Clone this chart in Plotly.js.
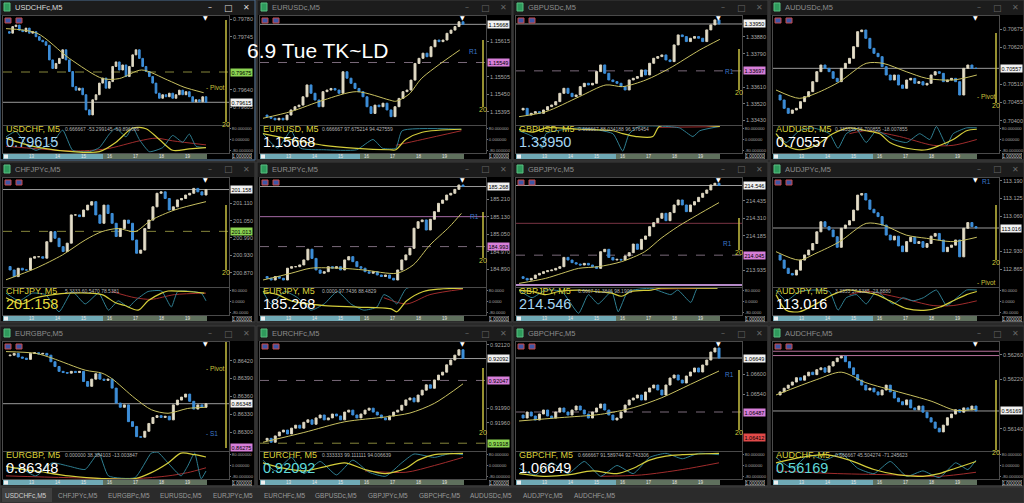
<!DOCTYPE html>
<html><head><meta charset="utf-8">
<script src="https://cdn.plot.ly/plotly-3.0.1.min.js"></script>
<style>html,body{margin:0;padding:0;background:#2b2b2b;overflow:hidden}#chart{width:1024px;height:503px}</style>
</head><body><div id="chart"></div>
<script>
// ---------------- DATA ----------------
const usdchfClose=[0.79755,0.79752,0.79765,0.79768,0.79758,0.79755,0.79762,0.79752,0.79755,0.79745,0.79738,0.79735,0.79728,0.79699,0.79682,0.79692,0.79702,0.79719,0.79699,0.79676,0.79646,0.79639,0.79643,0.79630,0.79600,0.79590,0.79620,0.79630,0.79653,0.79663,0.79643,0.79656,0.79686,0.79695,0.79679,0.79689,0.79666,0.79686,0.79709,0.79719,0.79702,0.79686,0.79676,0.79666,0.79653,0.79633,0.79623,0.79630,0.79626,0.79633,0.79623,0.79630,0.79639,0.79630,0.79636,0.79626,0.79616,0.79620,0.79616,0.79626,0.79615];
const usdchfMa=[[0,0.79761],[9.3,0.79752],[19,0.79702],[29,0.79662],[34,0.79662],[40.7,0.79679],[48.5,0.79659],[53.4,0.79645],[59.3,0.79634]];
const usdchfOscYellow=[[0,10],[5,-30],[10,-60],[20,-90],[28,-90],[33,-20],[38,85],[42,80],[46,0],[50,-80],[55,-70],[60,-60]];
const usdchfOscTeal=[[0,20],[3,60],[6,-40],[9,-80],[14,-20],[17,70],[20,-80],[25,-90],[28,-60],[31,40],[33,85],[36,20],[38,90],[40,0],[43,-90],[47,-60],[50,30],[53,-20],[55,40],[57,-50],[60,-60]];
const usdchfOscRed=[[0,-50],[10,-70],[20,-85],[30,-70],[40,-10],[45,10],[50,-10],[60,-40]];
const usdchfTicks=[0.79780,0.79745,0.79640,0.79605];

const eurusdClose=[1.15385,1.15380,1.15375,1.15370,1.15375,1.15370,1.15385,1.15401,1.15411,1.15416,1.15442,1.15479,1.15453,1.15432,1.15411,1.15458,1.15463,1.15468,1.15463,1.15453,1.15520,1.15500,1.15484,1.15468,1.15458,1.15442,1.15411,1.15390,1.15416,1.15411,1.15422,1.15401,1.15380,1.15411,1.15437,1.15458,1.15463,1.15494,1.15546,1.15562,1.15578,1.15567,1.15598,1.15619,1.15614,1.15619,1.15640,1.15650,1.15661,1.15676,1.15668];
const eurusdMa=[[0,1.15375],[7,1.15396],[15.2,1.15432],[23.4,1.15458],[31.6,1.15432],[33.2,1.15428],[36.5,1.15450],[39.7,1.15500],[49.2,1.15588]];
const eurusdOscYellow=[[0,43],[7,0],[15.2,-43],[23.4,-65],[31.6,-76],[33.2,-76],[35.7,0],[39.8,54],[49.6,76]];
const eurusdOscTeal=[[0,43],[3.7,-65],[7,65],[9.4,-65],[15.2,-76],[23.4,-76],[27.5,0],[29.9,-65],[33.2,-65],[34.8,65],[49.6,76]];
const eurusdOscRed=[[33.2,-43],[39.8,0],[49.6,65]];
const eurusdTicks=[1.15615,1.15505,1.15450,1.15395];

const gbpusdClose=[1.33486,1.33495,1.33459,1.33468,1.33477,1.33468,1.33486,1.33504,1.33513,1.33531,1.33576,1.33603,1.33576,1.33558,1.33567,1.33612,1.33630,1.33621,1.33630,1.33693,1.33729,1.33684,1.33648,1.33639,1.33630,1.33612,1.33594,1.33648,1.33657,1.33666,1.33702,1.33675,1.33738,1.33765,1.33774,1.33783,1.33756,1.33747,1.33837,1.33891,1.33882,1.33855,1.33873,1.33882,1.33873,1.33855,1.33918,1.33945,1.33972,1.33950];
const gbpusdMa=[[0,1.33450],[6.6,1.33477],[14.8,1.33558],[21.3,1.33621],[25.4,1.33612],[31.1,1.33648],[36.9,1.33711],[44.3,1.33810],[49.2,1.33867]];
const gbpusdOscYellow=[[0,76],[3.3,54],[6.6,86],[14.8,76],[23,65],[25.4,43],[28.7,22],[32.8,22],[34.4,97],[49.2,97]];
const gbpusdOscTeal=[[0,65],[3.3,22],[5.7,-65],[6.6,43],[14.8,86],[23,43],[25.4,-86],[27,43],[29.5,97],[39.3,86],[42.6,22],[44.3,65],[49.2,97]];
const gbpusdOscRed=[[34.4,90],[49.2,95]];
const gbpusdTicks=[1.33880,1.33790,1.33610,1.33520,1.33430];

const audusdClose=[0.70477,0.70462,0.70437,0.70422,0.70432,0.70437,0.70457,0.70472,0.70487,0.70517,0.70547,0.70567,0.70557,0.70547,0.70527,0.70517,0.70557,0.70572,0.70587,0.70622,0.70667,0.70672,0.70647,0.70617,0.70602,0.70592,0.70562,0.70537,0.70522,0.70537,0.70507,0.70497,0.70522,0.70527,0.70512,0.70517,0.70507,0.70512,0.70537,0.70547,0.70542,0.70517,0.70522,0.70527,0.70517,0.70477,0.70557,0.70567,0.70557,0.70557];
const audusdMa=[[0,0.70492],[5.7,0.70467],[9.8,0.70482],[15.6,0.70517],[22.1,0.70572],[26.2,0.70572],[31.9,0.70547],[36.9,0.70527],[43.4,0.70522],[49.2,0.70537]];
const audusdOscYellow=[[0,43],[2.5,-43],[5.7,-76],[9.8,-43],[13.9,43],[18,86],[22.1,65],[25.4,43],[27.9,-22],[32,-65],[36.9,-76],[40.2,-43],[43.4,0],[46.7,65],[49.2,76]];
const audusdOscTeal=[[0,43],[2.5,-22],[5.7,65],[9,86],[13.1,43],[15.2,-65],[17.2,43],[19.7,76],[22.1,-22],[24.6,65],[28.7,0],[32,-22],[35.2,43],[37.7,0],[39.3,97],[41.8,-43],[43.4,43],[46.7,86],[49.2,86]];
const audusdOscRed=[[18,43],[22.1,65],[30.3,22],[38.5,-43],[43.4,-43],[49.2,0]];
const audusdTicks=[0.70675,0.70620,0.70510,0.70455,0.70400];

const chfjpyClose=[200.891,200.879,200.856,200.885,200.879,200.879,200.920,200.925,200.925,200.920,200.977,201.012,200.989,200.960,200.943,200.972,201.070,201.070,201.064,201.087,201.104,201.116,201.070,201.041,201.104,201.075,201.041,200.995,201.023,201.052,201.041,200.983,200.937,200.948,201.023,201.052,201.098,201.145,201.150,201.127,201.087,201.098,201.122,201.127,201.139,201.145,201.162,201.150,201.139,201.158];
const chfjpyMa=[[0,200.845],[7.3,200.885],[13.8,200.931],[19.4,200.983],[23.5,201.012],[27.5,201.023],[31.6,201.012],[35.6,201.052],[41.3,201.087],[49,201.116]];
const chfjpyOscYellow=[[0,28],[4,-18],[7.3,28],[15.4,62],[23.5,51],[26.7,-7],[29.1,-30],[32.4,-64],[34.8,5],[38.1,62],[39.7,78],[44.5,74],[48.6,62]];
const chfjpyOscTeal=[[0,62],[3.2,5],[6.5,62],[9.7,51],[13,-76],[16.2,74],[19.4,-18],[22.7,62],[25.1,-64],[27.5,5],[30,-41],[31.6,5],[34.8,74],[38.1,78],[40.5,-41],[42.1,74],[47.8,62],[49,5]];
const chfjpyOscRed=[[25.9,74],[31.6,28],[35.6,16],[41.3,51],[49,62]];
const chfjpyTicks=[201.110,201.050,200.990,200.930,200.870];

const eurjpyClose=[184.856,184.848,184.840,184.856,184.848,184.840,184.894,184.901,184.901,184.909,184.932,184.981,184.939,184.886,184.871,184.878,184.901,184.894,184.901,184.886,184.932,184.947,184.924,184.901,184.894,184.878,184.871,184.878,184.863,184.856,184.863,184.848,184.840,184.886,184.932,184.955,184.985,185.077,185.107,185.115,185.069,185.118,185.153,185.191,185.206,185.229,185.237,185.255,185.275,185.268];
const eurjpyMa=[[0,184.840],[6.9,184.871],[11.7,184.894],[19,184.894],[24.7,184.886],[32.8,184.871],[36.8,184.909],[40.9,185.000],[45.7,185.084],[48.6,185.145]];
const eurjpyOscYellow=[[0,74],[3.6,51],[6.9,5],[15,-30],[23.1,-41],[31.2,-53],[32.8,-76],[35.2,5],[39.3,74],[43.3,92],[49,98]];
const eurjpyOscTeal=[[0,74],[2,-18],[5.3,74],[8.5,28],[11.7,-64],[15,-18],[18.2,74],[21.5,-18],[24.7,-64],[27.9,-41],[29.6,51],[31.2,28],[32.8,-18],[35.2,98],[49,98]];
const eurjpyOscRed=[[29.6,28],[35.2,-18],[40.9,51],[49,92]];
const eurjpyTicks=[185.210,185.130,185.050,184.970,184.890];

const gbpjpyClose=[213.890,213.878,213.866,213.878,213.902,213.914,213.926,213.933,213.938,213.950,213.962,214.029,214.010,213.991,213.981,213.974,213.986,213.974,213.962,213.950,214.070,214.087,214.029,214.010,214.015,214.010,214.039,214.063,214.125,214.087,214.159,214.183,214.250,214.279,214.310,214.346,214.293,214.351,214.406,214.442,214.406,214.358,214.406,214.430,214.461,214.490,214.514,214.550,214.562,214.546];
const gbpjpyMa=[[0,213.842],[6.5,213.878],[10.5,213.914],[14.6,213.950],[19.4,213.962],[25.1,213.998],[30.8,214.070],[34.8,214.166],[38.9,214.250],[43.7,214.334],[49,214.423]];
const gbpjpyOscYellow=[[0,85],[3.2,74],[6.5,51],[9.7,74],[14.6,85],[18.6,74],[22.7,62],[25.1,39],[27.5,74],[32.4,85],[34.8,98],[48.6,98]];
const gbpjpyOscTeal=[[0,85],[3.2,28],[6.5,85],[10.5,74],[14.6,-87],[17,51],[19.4,-18],[22.7,74],[24.3,-76],[26.7,74],[32.4,97],[37.2,51],[38.9,85],[42.1,-7],[43.7,97],[48.6,98]];
const gbpjpyOscRed=[[32.4,92],[48.6,98]];
const gbpjpyTicks=[214.435,214.310,214.185,213.935];

const audjpyClose=[112.917,112.898,112.868,112.849,112.843,112.861,112.898,112.917,112.935,112.959,113.002,113.039,113.021,113.009,112.984,112.945,113.015,113.027,113.043,113.082,113.137,113.143,113.119,113.085,113.072,113.058,113.027,112.990,112.972,112.986,112.950,112.929,112.966,112.982,112.959,112.966,112.945,112.959,112.986,112.996,112.972,112.929,112.945,112.953,112.972,112.910,113.015,113.036,113.021,113.016];
const audjpyMa=[[0,112.929],[5.7,112.898],[9.8,112.923],[15.6,112.966],[22.1,113.033],[26.2,113.027],[31.9,112.990],[36.9,112.978],[43.4,112.966],[49.2,112.982]];
const audjpyOscYellow=[[0,51],[2.5,-64],[5.7,-76],[9.8,-18],[13.9,51],[17.2,85],[20.5,74],[24.6,51],[27.9,5],[32,-53],[36.9,-64],[40.2,-41],[43.4,5],[46.7,51],[49.2,74]];
const audjpyOscTeal=[[0,85],[2.5,5],[5.7,74],[9,85],[13.1,74],[15.2,-64],[17.2,28],[19.7,51],[22.1,-18],[24.6,74],[28.7,-18],[31.1,28],[33.6,5],[36.1,28],[39.3,85],[41.8,-30],[44.3,28],[46.7,85],[49.2,85]];
const audjpyOscRed=[[18,51],[22.1,74],[30.3,28],[38.5,-30],[43.4,-30],[49.2,5]];
const audjpyTicks=[113.190,113.125,113.060,112.930,112.865];

const eurgbpClose=[0.86428,0.86429,0.86432,0.86426,0.86424,0.86422,0.86432,0.86433,0.86431,0.86432,0.86429,0.86418,0.86410,0.86402,0.86400,0.86399,0.86402,0.86400,0.86402,0.86385,0.86377,0.86389,0.86398,0.86389,0.86387,0.86389,0.86374,0.86349,0.86342,0.86346,0.86318,0.86310,0.86293,0.86292,0.86302,0.86315,0.86325,0.86328,0.86325,0.86327,0.86321,0.86346,0.86354,0.86359,0.86364,0.86352,0.86339,0.86346,0.86342,0.86348];
const eurgbpMa=[[0,0.86435],[7.3,0.86432],[11.3,0.86424],[19.4,0.86404],[23.5,0.86399],[25.9,0.86390],[31.6,0.86357],[35.6,0.86338],[39.7,0.86332],[44.5,0.86340],[49,0.86342]];
const eurgbpOscYellow=[[0,-5],[4,-29],[7.3,-41],[15.4,-77],[23.5,-97],[31.6,-97],[35.6,-53],[39.7,19],[42.9,92],[46.2,80],[49,63]];
const eurgbpOscTeal=[[0,-41],[3.2,-17],[7.3,-77],[11.3,19],[15.4,-5],[19.4,-29],[22.7,92],[25.1,-77],[31.6,-90],[35.6,92],[37.2,98],[39.7,19],[42.9,-77],[44.5,-5],[46.2,92],[47.8,-98],[49,-41]];
const eurgbpOscRed=[[0,-77],[15.4,-90],[31.6,-97],[39.7,-77],[44.5,-53],[49,-17]];
const eurgbpTicks=[0.86420,0.86390,0.86360,0.86330,0.86300];

const eurchfClose=[0.91924,0.91928,0.91920,0.91933,0.91941,0.91945,0.91937,0.91949,0.91955,0.91949,0.91961,0.91966,0.91957,0.91970,0.91976,0.91966,0.91970,0.91978,0.91974,0.91966,0.91982,0.91986,0.91976,0.91970,0.91978,0.91986,0.91990,0.91982,0.91976,0.91970,0.91966,0.91974,0.91982,0.91986,0.91996,0.92007,0.92011,0.92003,0.92017,0.92027,0.92038,0.92031,0.92048,0.92058,0.92064,0.92079,0.92089,0.92099,0.92110,0.92092];
const eurchfMa=[[0,0.91920],[10,0.91940],[20,0.91962],[30,0.91972],[36,0.91980],[42,0.92000],[49,0.92040]];
const eurchfOscYellow=[[0,20],[5,-20],[10,-40],[15,-10],[20,20],[25,-30],[30,-60],[35,-20],[38,40],[42,80],[49,90]];
const eurchfOscTeal=[[0,40],[3,-40],[7,60],[10,-60],[14,30],[18,-70],[22,40],[26,-50],[30,-80],[34,20],[37,85],[42,60],[46,90],[49,80]];
const eurchfOscRed=[[25,-40],[35,-50],[42,0],[49,60]];
const eurchfTicks=[0.92120,0.91990,0.91960];

const gbpchfClose=[1.06478,1.06469,1.06487,1.06475,1.06463,1.06481,1.06493,1.06475,1.06469,1.06487,1.06499,1.06487,1.06478,1.06493,1.06505,1.06493,1.06481,1.06469,1.06487,1.06499,1.06511,1.06493,1.06478,1.06463,1.06469,1.06487,1.06508,1.06523,1.06529,1.06538,1.06523,1.06547,1.06559,1.06568,1.06553,1.06538,1.06568,1.06589,1.06598,1.06583,1.06574,1.06595,1.06607,1.06619,1.06607,1.06628,1.06643,1.06667,1.06679,1.06649];
const gbpchfMa=[[0,1.06460],[10,1.06470],[20,1.06480],[28,1.06500],[35,1.06530],[42,1.06570],[49,1.06610]];
const gbpchfOscYellow=[[0,-60],[6,-80],[12,-70],[18,-40],[24,-60],[28,-20],[32,40],[36,70],[40,80],[44,85],[49,90]];
const gbpchfOscTeal=[[0,-20],[4,-70],[8,20],[12,-60],[16,30],[20,-80],[24,0],[28,-60],[32,60],[36,90],[40,50],[44,90],[49,80]];
const gbpchfOscRed=[[20,-80],[30,-70],[40,-30],[49,20]];
const gbpchfTicks=[1.06600,1.06540];

const audchfClose=[0.56195,0.56200,0.56206,0.56211,0.56216,0.56223,0.56219,0.56226,0.56232,0.56228,0.56236,0.56239,0.56232,0.56242,0.56249,0.56255,0.56258,0.56249,0.56239,0.56228,0.56219,0.56211,0.56203,0.56206,0.56200,0.56195,0.56203,0.56211,0.56200,0.56190,0.56184,0.56179,0.56187,0.56174,0.56171,0.56177,0.56167,0.56158,0.56151,0.56141,0.56135,0.56146,0.56158,0.56164,0.56171,0.56167,0.56174,0.56171,0.56177,0.56169];
const audchfMa=[[0,0.56195],[10,0.56220],[16,0.56232],[22,0.56215],[30,0.56200],[38,0.56185],[44,0.56170],[49,0.56172]];
const audchfOscYellow=[[0,20],[6,60],[12,80],[18,40],[24,-30],[30,-70],[36,-80],[40,-60],[44,-20],[49,30]];
const audchfOscTeal=[[0,60],[4,-20],[8,80],[12,40],[16,90],[20,-20],[24,-60],[28,30],[32,-80],[36,-40],[40,-90],[44,20],[47,-30],[49,40]];
const audchfOscRed=[[0,-40],[15,-60],[30,-70],[40,-80],[49,-50]];
const audchfTicks=[0.56260,0.56220,0.56140];

const timeLabels=['9','13','14','15','16','17','18','19'];
const tabLabels=['USDCHFc,M5','CHFJPYc,M5','EURGBPc,M5','EURUSDc,M5','EURJPYc,M5','EURCHFc,M5','GBPUSDc,M5','GBPJPYc,M5','GBPCHFc,M5','AUDUSDc,M5','AUDJPYc,M5','AUDCHFc,M5'];
const overlayText='6.9 Tue TK~LD';

// --------------- CONFIG (styles / placement) ---------------
const PINK='#d77fd9', GREEN='#8bd452', WHITE='#f2f2f2';
const charts=[
 {sym:'USDCHF',win:'USDCHFc,M5',close:usdchfClose,ma:usdchfMa,oy:usdchfOscYellow,ot:usdchfOscTeal,or:usdchfOscRed,ticks:usdchfTicks,dec:5,odec:6,yr:[0.79570,0.79786],pc:'#a6d6f2',otx:'0.666667 -53.299145 -69.896686',active:true,
  lines:[{v:0.79675,c:'#85853a',d:'dash'},{v:0.79615,c:'#9a9a9a'}],boxes:[{v:0.79675,bg:GREEN},{v:0.79615,bg:WHITE}],labels:[{v:0.79645,t:'- Pivot',c:'#c9c13e',dx:201}],vl:[20,122],twenty:true},
 {sym:'EURUSD',win:'EURUSDc,M5',close:eurusdClose,ma:eurusdMa,oy:eurusdOscYellow,ot:eurusdOscTeal,or:eurusdOscRed,ticks:eurusdTicks,dec:5,odec:6,yr:[1.15354,1.15694],pc:'#ffffff',otx:'0.666667 97.675214 94.427559',
  lines:[{v:1.15668,c:'#9a9a9a'},{v:1.15549,c:'#7a6a7a',d:'dash'}],boxes:[{v:1.15668,bg:WHITE},{v:1.15549,bg:PINK}],labels:[{v:1.15583,t:'R1',c:'#3c78c8',dx:207}],vl:[40,107],twenty:true},
 {sym:'GBPUSD',win:'GBPUSDc,M5',close:gbpusdClose,ma:gbpusdMa,oy:gbpusdOscYellow,ot:gbpusdOscTeal,or:gbpusdOscRed,ticks:gbpusdTicks,dec:5,odec:6,yr:[1.33405,1.33993],pc:'#a6d6f2',otx:'0.666667 88.034188 96.576454',
  lines:[{v:1.33950,c:'#9a9a9a'},{v:1.33697,c:'#7a6a7a',d:'dash'}],boxes:[{v:1.33950,bg:WHITE},{v:1.33697,bg:PINK}],labels:[{v:1.33693,t:'R1',c:'#3c78c8',dx:207}],vl:[49,90],twenty:true},
 {sym:'AUDUSD',win:'AUDUSDc,M5',close:audusdClose,ma:audusdMa,oy:audusdOscYellow,ot:audusdOscTeal,or:audusdOscRed,ticks:audusdTicks,dec:5,odec:6,yr:[0.70387,0.70714],pc:'#ffffff',otx:'0.333333 56.700855 -18.007855',
  lines:[{v:0.70557,c:'#9a9a9a'}],boxes:[{v:0.70557,bg:WHITE}],labels:[{v:0.70472,t:'- Pivot',c:'#c9c13e',dx:202}],vl:[33,103],twenty:true},
 {sym:'CHFJPY',win:'CHFJPYc,M5',close:chfjpyClose,ma:chfjpyMa,oy:chfjpyOscYellow,ot:chfjpyOscTeal,or:chfjpyOscRed,ticks:chfjpyTicks,dec:3,odec:4,yr:[200.820,201.198],pc:'#e6dc3c',otx:'5.3333 60.5470 78.5381',
  lines:[{v:201.158,c:'#9a9a9a'},{v:201.013,c:'#85853a',d:'dash'}],boxes:[{v:201.158,bg:WHITE},{v:201.013,bg:GREEN}],labels:[],vl:[43,108],twenty:true},
 {sym:'EURJPY',win:'EURJPYc,M5',close:eurjpyClose,ma:eurjpyMa,oy:eurjpyOscYellow,ot:eurjpyOscTeal,or:eurjpyOscRed,ticks:eurjpyTicks,dec:3,odec:4,yr:[184.808,185.307],pc:'#ffffff',otx:'0.0000 97.7436 88.4829',
  lines:[{v:185.268,c:'#9a9a9a'},{v:185.130,c:'#a56aa5'},{v:184.993,c:'#7a6a7a',d:'dash'}],boxes:[{v:185.268,bg:WHITE},{v:184.993,bg:PINK}],labels:[{v:185.130,t:'R1',c:'#3c78c8',dx:208}],vl:[50,96],twenty:true},
 {sym:'GBPJPY',win:'GBPJPYc,M5',close:gbpjpyClose,ma:gbpjpyMa,oy:gbpjpyOscYellow,ot:gbpjpyOscTeal,or:gbpjpyOscRed,ticks:gbpjpyTicks,dec:3,odec:4,yr:[213.816,214.600],pc:'#a6d6f2',otx:'6.6667 91.3846 98.1900',
  lines:[{v:214.546,c:'#9a9a9a'},{v:214.274,c:'#7a3444'},{v:214.045,c:'#7a6a7a',d:'dash'},{v:213.830,c:'#b58ac8',w:2}],boxes:[{v:214.546,bg:WHITE},{v:214.045,bg:PINK}],labels:[{v:214.130,t:'R1',c:'#3c78c8',dx:205}],vl:[56,88],twenty:true},
 {sym:'AUDJPY',win:'AUDJPYc,M5',close:audjpyClose,ma:audjpyMa,oy:audjpyOscYellow,ot:audjpyOscTeal,or:audjpyOscRed,ticks:audjpyTicks,dec:3,odec:4,yr:[112.799,113.200],pc:'#ffffff',otx:'3.3333 57.5385 -23.8880',
  lines:[{v:113.016,c:'#9a9a9a'}],boxes:[{v:113.016,bg:WHITE}],labels:[{v:112.816,t:'- Pivot',c:'#c9c13e',dx:202},{v:113.186,t:'R1',c:'#3c78c8',dx:207}],vl:[43,98],twenty:true},
 {sym:'EURGBP',win:'EURGBPc,M5',close:eurgbpClose,ma:eurgbpMa,oy:eurgbpOscYellow,ot:eurgbpOscTeal,or:eurgbpOscRed,ticks:eurgbpTicks,dec:5,odec:6,yr:[0.86269,0.86451],pc:'#ffffff',otx:'0.000000 38.384103 -13.003847',
  lines:[{v:0.86348,c:'#9a9a9a'}],boxes:[{v:0.86348,bg:WHITE},{v:0.86275,bg:PINK}],labels:[{v:0.86406,t:'- Pivot',c:'#c9c13e',dx:201},{v:0.86298,t:'- S1',c:'#3c78c8',dx:201}],vl:[16,122],twenty:false},
 {sym:'EURCHF',win:'EURCHFc,M5',close:eurchfClose,ma:eurchfMa,oy:eurchfOscYellow,ot:eurchfOscTeal,or:eurchfOscRed,ticks:eurchfTicks,dec:5,odec:6,yr:[0.91902,0.92126],pc:'#5fd9d9',otx:'0.333333 99.111111 94.006639',
  lines:[{v:0.92092,c:'#9a9a9a'},{v:0.92047,c:'#7a6a7a',d:'dash'},{v:0.91918,c:'#85853a',d:'dash'}],boxes:[{v:0.92092,bg:WHITE},{v:0.92047,bg:PINK},{v:0.91918,bg:GREEN}],labels:[],vl:[42,104],twenty:true},
 {sym:'GBPCHF',win:'GBPCHFc,M5',close:gbpchfClose,ma:gbpchfMa,oy:gbpchfOscYellow,ot:gbpchfOscTeal,or:gbpchfOscRed,ticks:gbpchfTicks,dec:5,odec:6,yr:[1.06370,1.06697],pc:'#ffffff',otx:'0.666667 91.589744 92.743306',
  lines:[{v:1.06649,c:'#9a9a9a'},{v:1.06487,c:'#7a6a7a',d:'dash'}],boxes:[{v:1.06649,bg:WHITE},{v:1.06487,bg:PINK},{v:1.06412,bg:'#e24a4a'}],labels:[{v:1.06600,t:'R1',c:'#3c78c8',dx:207}],vl:[44,104],twenty:true},
 {sym:'AUDCHF',win:'AUDCHFc,M5',close:audchfClose,ma:audchfMa,oy:audchfOscYellow,ot:audchfOscTeal,or:audchfOscRed,ticks:audchfTicks,dec:5,odec:6,yr:[0.56104,0.56281],pc:'#5fd9d9',otx:'0.666667 45.504274 -71.245623',
  lines:[{v:0.56169,c:'#9a9a9a'},{v:0.56266,c:'#b5709a'},{v:0.56259,c:'#b5709a'}],boxes:[{v:0.56169,bg:WHITE}],labels:[],vl:[54,124],twenty:true}
];

// --------------- BUILD ---------------
const W=1024,H=503;
const px=x=>x/W, py=y=>1-y/H;
const FONT='Liberation Sans, Arial, sans-serif';
const colLeft=[0,257,513,770], rowTop=[0,162,326];
const traces=[];
const layout={width:W,height:H,margin:{l:0,r:0,t:0,b:0},paper_bgcolor:'#2a2a2a',plot_bgcolor:'rgba(0,0,0,0)',showlegend:false,hovermode:false,dragmode:false,font:{family:FONT},shapes:[],annotations:[]};
function ann(o){layout.annotations.push(Object.assign({showarrow:false,xref:'paper',yref:'paper',xanchor:'left',yanchor:'middle'},o));}
function rect(x0,y0,x1,y1,fill,line,lw,layer){layout.shapes.push({type:'rect',xref:'paper',yref:'paper',x0:px(x0),x1:px(x1),y0:py(y1),y1:py(y0),fillcolor:fill,line:{color:line||'rgba(0,0,0,0)',width:lw||0},layer:layer||'above'});}
function seg(x0,y0,x1,y1,color,w,dash){layout.shapes.push({type:'line',xref:'paper',yref:'paper',x0:px(x0),x1:px(x1),y0:py(y0),y1:py(y1),line:{color:color,width:w||1,dash:dash||'solid'}});}

rect(0,487,1024,503,'#2b2b2b','#3a3a3a',1,'below');
rect(2,488,52,502,'#404040',null,0,'below');
tabLabels.forEach((t,i)=>ann({x:px(26+i*51.7),y:py(495.5),xanchor:'center',text:t,font:{size:6.5,color:i===0?'#d0d0d0':'#9a9a9a',family:FONT}}));

charts.forEach((c,k)=>{
  const col=k%4,row=Math.floor(k/4);
  const wx=colLeft[col],wy=rowTop[row],ww=(col===3?W-wx:255);
  const L=wx+3,R=wx+229,T=wy+16,MB=wy+125,OT=wy+126,OB=wy+153;
  const ia=2*k+1,ib=2*k+2;
  const xa='xaxis'+(ia===1?'':ia),ya='yaxis'+(ia===1?'':ia),xb='xaxis'+ib,yb='yaxis'+ib;
  const xr='x'+(ia===1?'':ia),yr='y'+(ia===1?'':ia),xr2='x'+ib,yr2='y'+ib;
  const n=c.close.length;
  const s=200/(n-1), a0=-3/s, xrange=[a0,a0+(R-L)/s];
  rect(wx,wy,wx+ww,wy+160,'#1c1c1c',c.active?'#4d6f91':'#3c3c3c',1,'below');
  rect(wx+1,wy+15,wx+ww-1,wy+159,'#000000',null,0,'below');
  rect(wx+4,wy+3,wx+10,wy+11,'#2f9a5c','#58c080',1);
  ann({x:px(wx+13),y:py(wy+7.5),text:c.win,font:{size:7.5,color:c.active?'#dadada':'#8c8c8c',family:FONT}});
  const bc=c.active?'#d8d8d8':'#666666';
  ann({x:px(wx+ww-45),y:py(wy+7.5),xanchor:'center',text:'–',font:{size:8,color:bc,family:'DejaVu Sans'}});
  ann({x:px(wx+ww-27),y:py(wy+7.5),xanchor:'center',text:'□',font:{size:9,color:bc,family:'DejaVu Sans'}});
  ann({x:px(wx+ww-9),y:py(wy+7.5),xanchor:'center',text:'✕',font:{size:8,color:bc,family:'DejaVu Sans'}});
  layout[xa]={domain:[px(L),px(R)],range:xrange,anchor:yr,showticklabels:false,showgrid:false,zeroline:false,showline:true,linecolor:'#4a4a4a',mirror:true,ticks:'',rangeslider:{visible:false},fixedrange:true};
  layout[ya]={domain:[py(MB),py(T)],range:c.yr,anchor:xr,side:'right',tickvals:c.ticks,ticktext:c.ticks.map(v=>v.toFixed(c.dec)),tickfont:{size:5.5,color:'#a8a8a8',family:FONT},ticks:'outside',ticklen:2,tickcolor:'#777',showgrid:false,zeroline:false,showline:true,linecolor:'#4a4a4a',mirror:true,fixedrange:true};
  layout[xb]={domain:[px(L),px(R)],range:xrange,anchor:yr2,showticklabels:false,showgrid:false,zeroline:false,showline:true,linecolor:'#4a4a4a',mirror:true,ticks:'',fixedrange:true};
  const od=c.odec;
  layout[yb]={domain:[py(OB),py(OT)],range:[-100,100],anchor:xr2,side:'right',tickvals:[80,0,-80],ticktext:[(80).toFixed(od),(0).toFixed(od),(-80).toFixed(od)],tickfont:{size:4.2,color:'#a8a8a8',family:FONT},ticks:'outside',ticklen:1,tickcolor:'#777',showgrid:false,zeroline:false,showline:true,linecolor:'#4a4a4a',mirror:true,fixedrange:true};
  const xs=[],o=[],h=[],l=[],cl=[];
  for(let i=1;i<n;i++){const op=c.close[i-1],cc=c.close[i];xs.push(i);o.push(op);cl.push(cc);h.push(Math.max(op,cc));l.push(Math.min(op,cc));}
  c.lines.forEach(lv=>layout.shapes.push({type:'line',xref:'paper',yref:yr,x0:px(L),x1:px(R),y0:lv.v,y1:lv.v,line:{color:lv.c,width:lv.w||1,dash:lv.d||'solid'},layer:'below'}));
  traces.push({type:'candlestick',x:xs,open:o,high:h,low:l,close:cl,xaxis:xr,yaxis:yr,whiskerwidth:0,
    increasing:{line:{color:'#d9d2bc',width:1},fillcolor:'#e8e2cf'},decreasing:{line:{color:'#3d8ed8',width:1},fillcolor:'#3d8ed8'},showlegend:false,hoverinfo:'skip'});
  traces.push({type:'scatter',mode:'lines',x:c.ma.map(p=>p[0]),y:c.ma.map(p=>p[1]),xaxis:xr,yaxis:yr,line:{color:'#c8c060',width:1,shape:'spline',smoothing:0.8},hoverinfo:'skip'});
  traces.push({type:'scatter',mode:'lines',x:c.or.map(p=>p[0]),y:c.or.map(p=>p[1]),xaxis:xr2,yaxis:yr2,line:{color:'#a02c2c',width:1,shape:'spline',smoothing:0.8},hoverinfo:'skip'});
  traces.push({type:'scatter',mode:'lines',x:c.ot.map(p=>p[0]),y:c.ot.map(p=>p[1]),xaxis:xr2,yaxis:yr2,line:{color:'#2f7f92',width:1,shape:'spline',smoothing:0.5},hoverinfo:'skip'});
  traces.push({type:'scatter',mode:'lines',x:c.oy.map(p=>p[0]),y:c.oy.map(p=>p[1]),xaxis:xr2,yaxis:yr2,line:{color:'#d4cd3a',width:1.2,shape:'spline',smoothing:0.8},hoverinfo:'skip'});
  c.boxes.forEach(b=>ann({x:px(R+1),yref:yr,y:b.v,text:b.v.toFixed(c.dec),bgcolor:b.bg,borderpad:0.5,font:{size:5.5,color:'#000',family:FONT}}));
  c.labels.forEach(lb=>ann({x:px(L+lb.dx),yref:yr,y:lb.v,text:lb.t,font:{size:6.5,color:lb.c,family:FONT}}));
  rect(L+2,T+2,L+8,T+7,'#3e56a6','#c84a4a',1);
  rect(L+13,T+2,L+19,T+7,'#3e56a6','#c84a4a',1);
  ann({x:px(L+202),y:py(T+1.5),xanchor:'center',text:'▼',font:{size:6,color:'#ffffff',family:'DejaVu Sans'}});
  seg(wx+226,wy+c.vl[0],wx+226,wy+c.vl[1],'#c8c040',1.5);
  if(c.twenty) ann({x:px(wx+226),y:py(wy+c.vl[1]+2.5),xanchor:'center',text:'20',font:{size:7,color:'#d4cd3a',family:FONT}});
  ann({x:px(L+1),y:py(OT+3),text:c.sym+', M5',font:{size:9,color:'#dcd23c',family:FONT}});
  ann({x:px(L+60),y:py(OT+3),text:c.otx,font:{size:5,color:'#b4b4b4',family:FONT}});
  ann({x:px(L+1),y:py(OT+16),text:c.close[n-1].toFixed(c.dec),font:{size:14.5,color:c.pc,family:FONT}});
  rect(L,OB+1,L+100,OB+6,'#6fa9b5',null,0);
  rect(L+100,OB+1,L+204,OB+6,'#5f705d',null,0);
  rect(L+1,OB+1.5,L+5,OB+5.5,'#f0f0f0',null,0);
  timeLabels.forEach((t,i)=>{ if(i>0) ann({x:px(L+3+i*26),y:py(OB+3.5),xanchor:'center',text:t,font:{size:4.5,color:'#e4e4e4',family:FONT}}); });
  ann({x:px(R+3),y:py(OB+3.5),text:'1.000000',bordercolor:'#9a9a9a',borderwidth:0.5,borderpad:0,font:{size:4.5,color:'#dddddd',family:FONT}});
});

ann({x:px(245),y:py(50),text:overlayText,font:{size:21,color:'#ffffff',family:FONT}});

Plotly.newPlot('chart',traces,layout,{staticPlot:true,displayModeBar:false});
</script></body></html>
